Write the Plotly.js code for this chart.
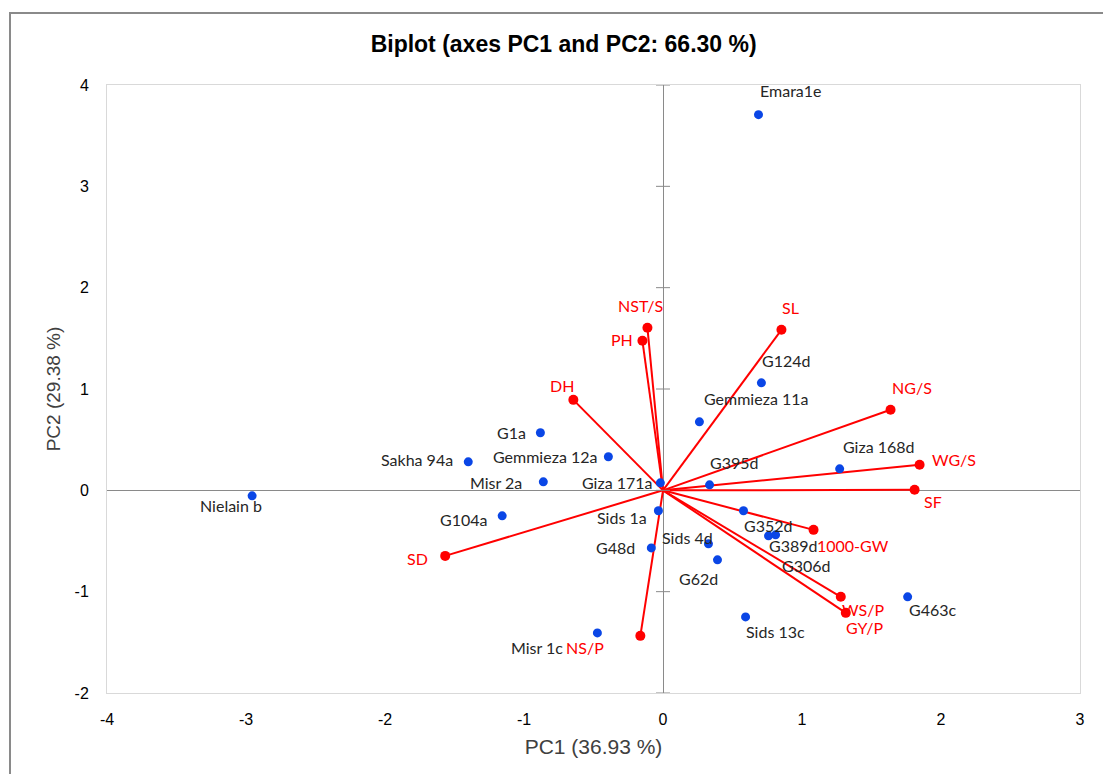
<!DOCTYPE html>
<html>
<head>
<meta charset="utf-8">
<script src="https://cdn.plot.ly/plotly-3.0.1.min.js"></script>
<style>
  html, body { margin:0; padding:0; background:#fff; overflow:hidden; }
  #chart { width:1103px; height:774px; position:absolute; left:0; top:0; }
  #frame { position:absolute; left:9px; top:12px; width:1120px; height:800px;
           border:2px solid #8a8a8a; pointer-events:none; }
</style>
</head>
<body>
<div id="chart"></div>
<div id="frame"></div>
<script>
// ---- data ----
const obsNames = ["Emara1e","Nielain b","Sakha 94a","G1a","Gemmieza 12a","Misr 2a","Giza 171a",
  "G104a","Sids 1a","G48d","Sids 4d","G62d","Sids 13c","G463c","Misr 1c","G352d",
  "G389d","G306d","G395d","Giza 168d","Gemmieza 11a","G124d"];
const obsPC1 = [0.687,-2.956,-1.401,-0.882,-0.393,-0.861,-0.019,
  -1.157,-0.033,-0.084,0.327,0.392,0.594,1.760,-0.472,0.579,
  0.759,0.810,0.335,1.271,0.262,0.708];
const obsPC2 = [3.707,-0.054,0.281,0.568,0.331,0.084,0.074,
  -0.252,-0.202,-0.568,-0.528,-0.686,-1.249,-1.051,-1.407,-0.202,
  -0.449,-0.439,0.054,0.212,0.676,1.061];

const varNames = ["NST/S","PH","DH","SL","NG/S","WG/S","SF","1000-GW","WS/P","GY/P","NS/P","SD"];
const varPC1 = [-0.112,-0.148,-0.645,0.852,1.637,1.846,1.810,1.083,1.279,1.315,-0.163,-1.567];
const varPC2 = [1.604,1.476,0.893,1.584,0.795,0.252,0.005,-0.390,-1.051,-1.209,-1.436,-0.647];

const xTicks = [-4,-3,-2,-1,0,1,2,3];
const xTickText = ["-4","-3","-2","-1","0","1","2","3"];
const yTicks = [-2,-1,0,1,2,3,4];
const yTickText = ["-2","-1","0","1","2","3","4"];

// ---- label placement (anchor, dx px, dy px screen-down) ----
const obsLabelPos = [["center",33,-24],["center",-21,10],["right",-13,-2],["right",-12,0],
  ["right",-9,0],["right",-19,1],["right",-5,0],["right",-13,4],["right",-9,7],["right",-14,0],
  ["center",-21,-6],["center",-19,19],["center",30,15],["center",25,13],["right",-32,15],
  ["center",25,15],["center",25,10],["center",31,31],["center",25,-22],["center",39,-22],
  ["center",57,-23],["center",25,-22]];
const varLabelPos = [["center",-7,-22],["right",-7,-1],["center",-11,-14],["center",9,-22],
  ["center",21,-22],["center",34,-5],["center",18,12],["center",39,16],["center",22,13],
  ["center",19,15],["center",-55,12],["right",-15,3]];

const labelFont = "Lato, 'Open Sans', sans-serif";
const axisFont = "'Liberation Sans', Arial, sans-serif";

// vector lines from origin
const lx = [], ly = [];
varPC1.forEach((v,i) => { lx.push(0, v, null); ly.push(0, varPC2[i], null); });

const traces = [
  { x: lx, y: ly, mode: "lines", line: {color: "#ff0000", width: 2}, hoverinfo: "skip", showlegend: false },
  { x: varPC1, y: varPC2, mode: "markers", marker: {color: "#ff0000", size: 10}, hoverinfo: "skip", showlegend: false },
  { x: obsPC1, y: obsPC2, mode: "markers", marker: {color: "#0a46e6", size: 9}, hoverinfo: "skip", showlegend: false }
];

const annotations = [];
obsNames.forEach((n,i) => {
  const p = obsLabelPos[i];
  annotations.push({ x: obsPC1[i], y: obsPC2[i], text: n, showarrow: false,
    xanchor: p[0], yanchor: "middle", xshift: p[1], yshift: -p[2],
    font: {family: labelFont, size: 16, color: "#262626"} });
});
varNames.forEach((n,i) => {
  const p = varLabelPos[i];
  annotations.push({ x: varPC1[i], y: varPC2[i], text: n, showarrow: false,
    xanchor: p[0], yanchor: "middle", xshift: p[1], yshift: -p[2],
    font: {family: labelFont, size: 16, color: "#ff0000"} });
});

// cross tick marks on the vertical zero axis
const shapes = [];
yTicks.forEach(t => shapes.push({ type: "line", xref: "x", yref: "y", xsizemode: "pixel", xanchor: 0,
  x0: -7, x1: 7, y0: t, y1: t, line: {color: "#8a8a8a", width: 1} }));

const layout = {
  width: 1103, height: 774,
  margin: {l: 107, r: 23, t: 85, b: 81},
  paper_bgcolor: "#ffffff", plot_bgcolor: "#ffffff",
  title: { text: "<b>Biplot (axes PC1 and PC2: 66.30 %)</b>", xref: "container", x: 0.511, xanchor: "center",
    yref: "container", y: 1 - 44/774, yanchor: "middle",
    font: {family: axisFont, size: 23, color: "#000000"} },
  xaxis: { range: [-4, 3], tickvals: xTicks, ticktext: xTickText, showgrid: false,
    zeroline: true, zerolinecolor: "#8a8a8a", zerolinewidth: 1,
    showline: true, mirror: true, linecolor: "#d9d9d9", linewidth: 1,
    ticks: "outside", ticklen: 12, tickcolor: "rgba(0,0,0,0)",
    tickfont: {family: axisFont, size: 16, color: "#000000"},
    title: { text: "PC1 (36.93 %)", standoff: 12, font: {family: axisFont, size: 21, color: "#404040"} } },
  yaxis: { range: [-2, 4], tickvals: yTicks, ticktext: yTickText, showgrid: false,
    zeroline: true, zerolinecolor: "#8a8a8a", zerolinewidth: 1,
    showline: true, mirror: true, linecolor: "#d9d9d9", linewidth: 1,
    ticks: "outside", ticklen: 14, tickcolor: "rgba(0,0,0,0)",
    tickfont: {family: axisFont, size: 16, color: "#000000"},
    title: { text: "PC2 (29.38 %)", standoff: 8, font: {family: axisFont, size: 19, color: "#404040"} } },
  annotations: annotations,
  shapes: shapes,
  hovermode: false
};

Plotly.newPlot("chart", traces, layout, {displayModeBar: false, staticPlot: true});
</script>
</body>
</html>
